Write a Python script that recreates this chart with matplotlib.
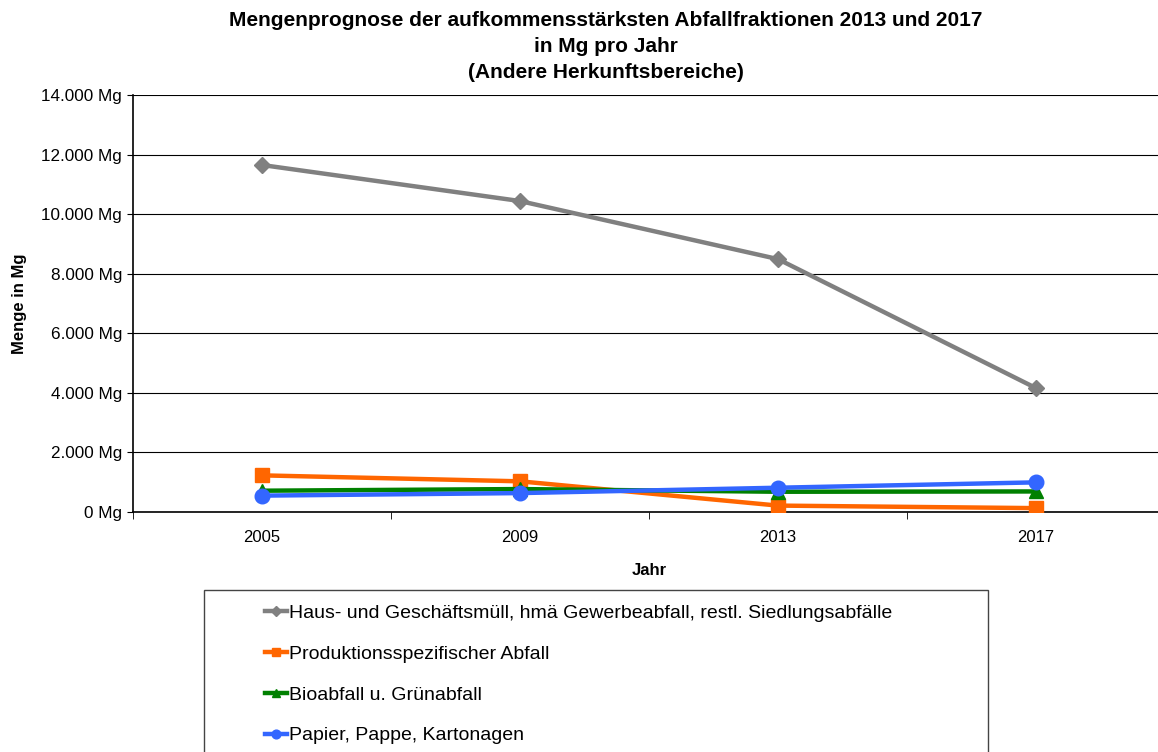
import numpy as np
import matplotlib.pyplot as plt
from matplotlib.patches import Rectangle
from matplotlib.ticker import FuncFormatter

plt.rcParams['font.family'] = ['Liberation Sans', 'DejaVu Sans']

# data (Mg per year)
jahre = ['2005', '2009', '2013', '2017']
haus = [11650, 10440, 8490, 4160]
prod = [1230, 1030, 215, 130]
bio = [715, 770, 680, 690]
papier = [550, 635, 815, 995]

labels = ['Haus- und Geschäftsmüll, hmä Gewerbeabfall, restl. Siedlungsabfälle',
          'Produktionsspezifischer Abfall',
          'Bioabfall u. Grünabfall',
          'Papier, Pappe, Kartonagen']

W, H = 1158, 752
fig = plt.figure(figsize=(W / 100, H / 100), dpi=100, facecolor='white')
ax = fig.add_axes([133 / W, 1 - 512 / H, (1165 - 133) / W, (512 - 95) / H])

x = np.arange(len(jahre))
ax.plot(x, haus, color='#808080', lw=3.2, marker='D', ms=8.5, label=labels[0], zorder=3)
ax.plot(x, prod, color='#ff6600', lw=3.2, marker='s', ms=10, label=labels[1], zorder=3)
ax.plot(x, bio, color='#008000', lw=3.2, marker='^', ms=10, label=labels[2], zorder=3)
ax.plot(x, papier, color='#3366ff', lw=3.2, marker='o', ms=10.5, label=labels[3], zorder=4)

ax.set_xlim(-0.5, 3.5)
ax.set_ylim(0, 14000)
ax.set_yticks(np.arange(0, 14001, 2000))
ax.yaxis.set_major_formatter(FuncFormatter(
    lambda v, p: '{:,.0f} Mg'.format(v).replace(',', '.')))
ax.set_xticks(x)
ax.set_xticklabels(jahre)
ax.set_xticks(np.arange(-0.5, 3.6, 1), minor=True)
ax.tick_params(axis='x', which='major', length=0, pad=13, labelsize=12)
ax.tick_params(axis='x', which='minor', length=5, direction='out', color='black')
ax.tick_params(axis='y', length=4, direction='out', labelsize=12.3, pad=4)
ax.grid(axis='y', color='black', lw=0.8)
ax.set_axisbelow(True)
for s in ['top', 'right']:
    ax.spines[s].set_visible(False)
ax.spines['left'].set_linewidth(1.2)
ax.spines['bottom'].set_linewidth(1.2)

ax.set_xlabel('Jahr', fontsize=12, fontweight='bold', labelpad=13)
ax.set_ylabel('Menge in Mg', fontsize=12, fontweight='bold', labelpad=10)

tx = 606 / W
fig.text(tx, 1 - 20 / H, 'Mengenprognose der aufkommensstärksten Abfallfraktionen 2013 und 2017',
         ha='center', va='center', fontsize=15, fontweight='bold')
fig.text(tx, 1 - 46 / H, 'in Mg pro Jahr', ha='center', va='center',
         fontsize=15, fontweight='bold')
fig.text(tx, 1 - 72 / H, '(Andere Herkunftsbereiche)', ha='center', va='center',
         fontsize=15, fontweight='bold')

# legend box (runs off the bottom of the picture)
fig.patches.append(Rectangle((204 / W, -0.05), (988 - 204) / W, 0.05 + 1 - 590 / H,
                             transform=fig.transFigure, fill=False,
                             edgecolor='#444444', lw=1.0))
leg = fig.legend(loc='upper left', bbox_to_anchor=(247 / W, 1 - 587 / H),
                 frameon=False, fontsize=14, handlelength=1.15, handletextpad=0.12,
                 labelspacing=1.19, markerscale=0.6)

fig.savefig('out.png', dpi=100, facecolor='white')
